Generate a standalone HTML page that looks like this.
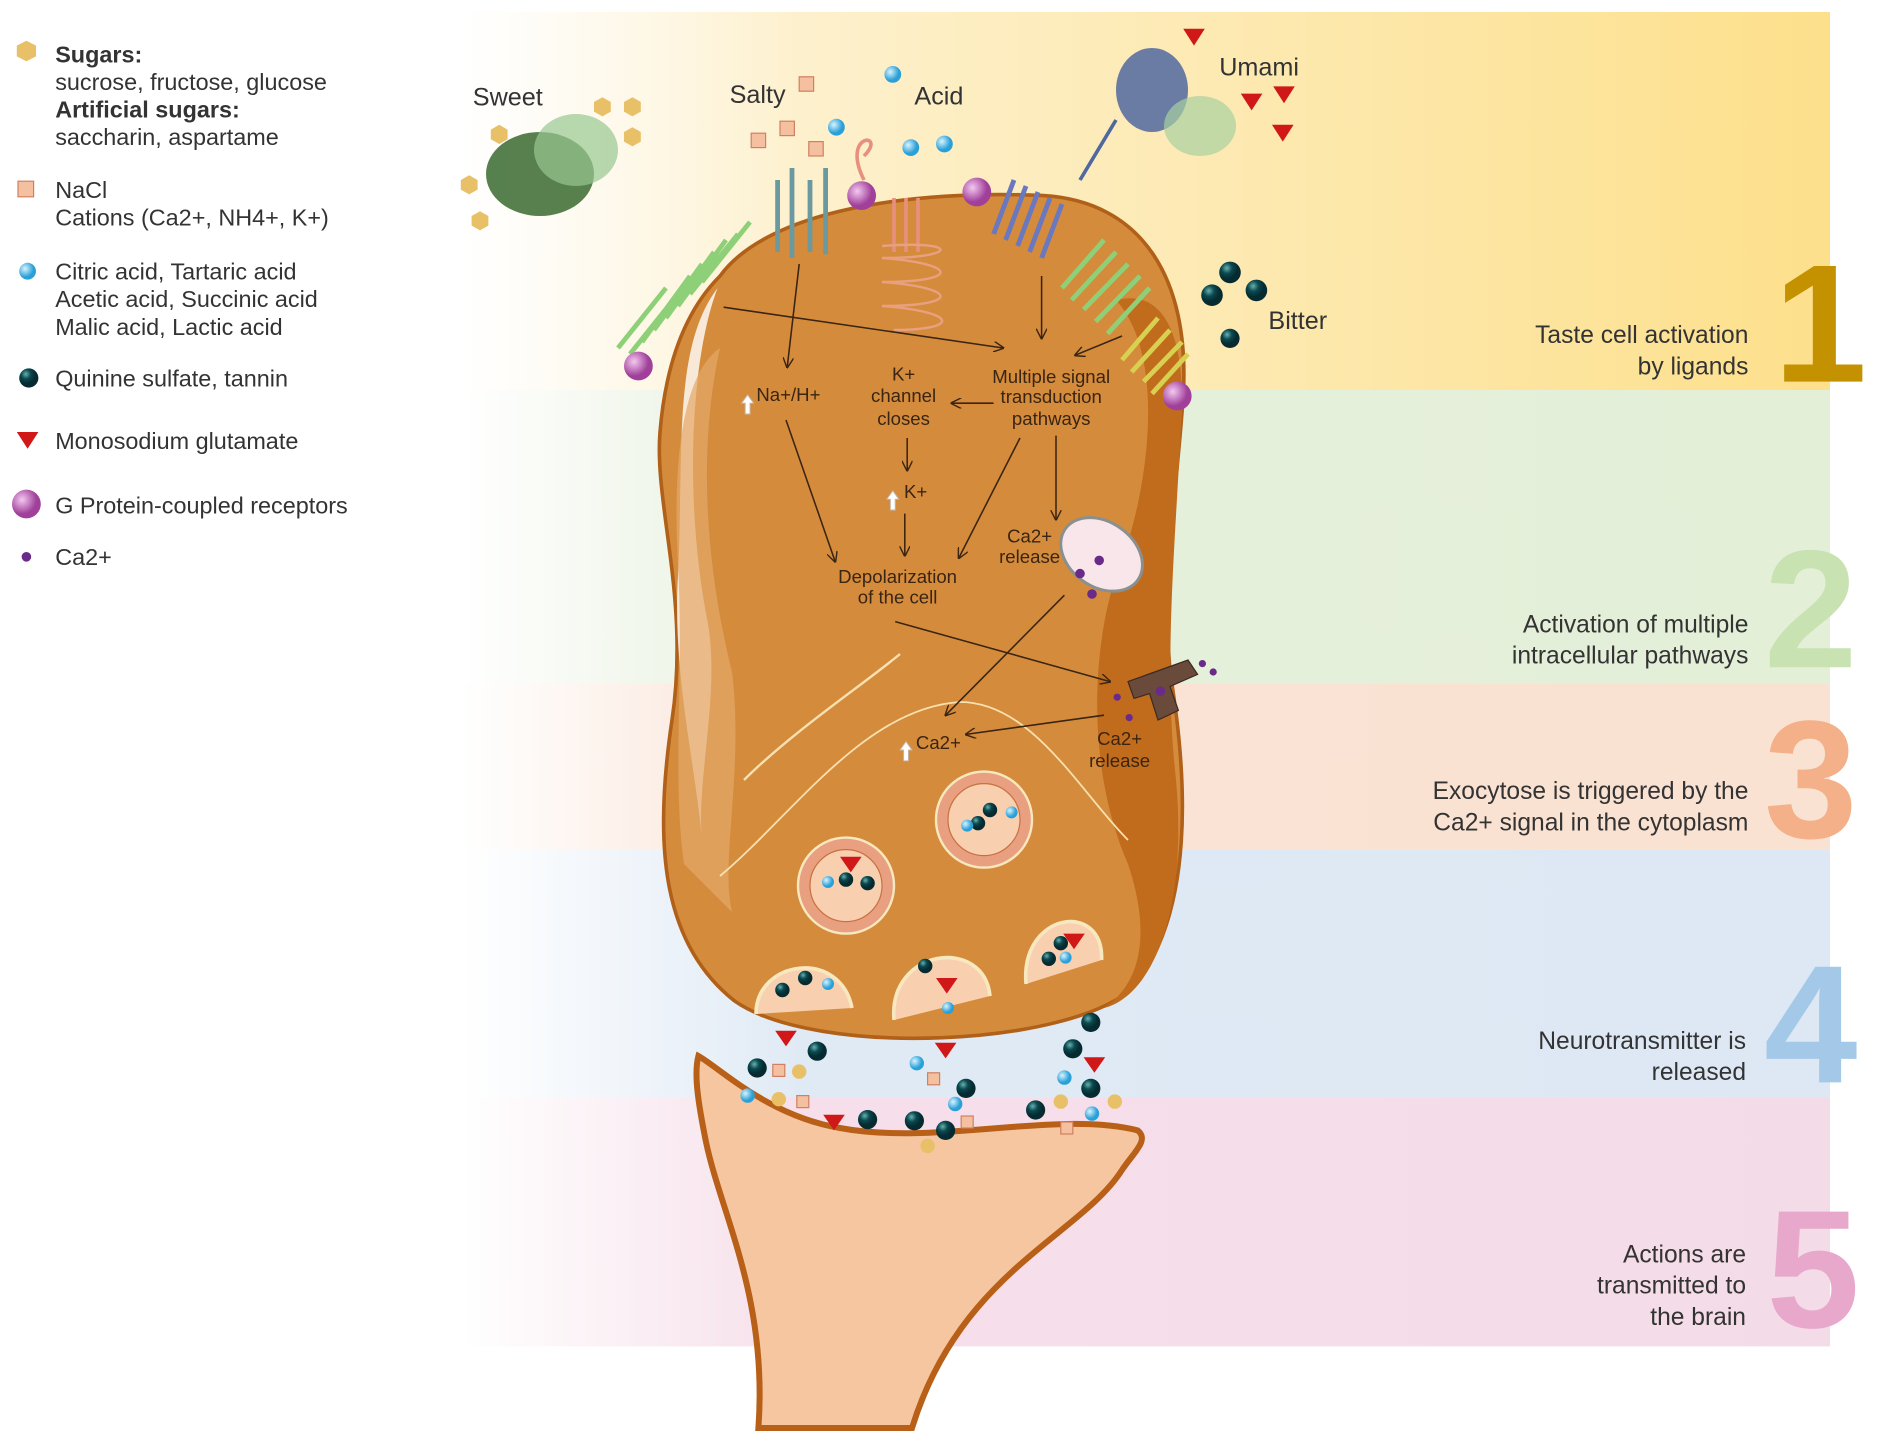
<!DOCTYPE html>
<html><head><meta charset="utf-8"><style>
html,body{margin:0;padding:0;background:#fff}
svg{display:block}
text{font-family:"Liberation Sans",sans-serif}
</style></head><body>
<svg width="1882" height="1435" viewBox="0 0 1882 1435" xmlns="http://www.w3.org/2000/svg">
<defs>
<linearGradient id="g1" x1="0" x2="1"><stop offset="0" stop-color="#fdf3d8" stop-opacity="0"/><stop offset="0.25" stop-color="#fdf0cc"/><stop offset="1" stop-color="#fde08c"/></linearGradient>
<linearGradient id="g2" x1="0" x2="1"><stop offset="0" stop-color="#e6f0dc" stop-opacity="0"/><stop offset="0.25" stop-color="#e6f0dc"/><stop offset="1" stop-color="#e4efd8"/></linearGradient>
<linearGradient id="g3" x1="0" x2="1"><stop offset="0" stop-color="#fae3d5" stop-opacity="0"/><stop offset="0.25" stop-color="#fae3d5"/><stop offset="1" stop-color="#fae2d2"/></linearGradient>
<linearGradient id="g4" x1="0" x2="1"><stop offset="0" stop-color="#e0eaf5" stop-opacity="0"/><stop offset="0.25" stop-color="#e0eaf5"/><stop offset="1" stop-color="#dde8f4"/></linearGradient>
<linearGradient id="g5" x1="0" x2="1"><stop offset="0" stop-color="#f6dfea" stop-opacity="0"/><stop offset="0.25" stop-color="#f6dfea"/><stop offset="1" stop-color="#f4dbe8"/></linearGradient>
<marker id="ar" viewBox="0 0 10 10" refX="9" refY="5" markerWidth="9" markerHeight="9" orient="auto" markerUnits="userSpaceOnUse"><path d="M0,0 L10,5 L0,10" fill="none" stroke="#3a2412" stroke-width="1.3"/></marker>
<radialGradient id="gp" cx="0.35" cy="0.35"><stop offset="0" stop-color="#f4c8f0"/><stop offset="1" stop-color="#a0409a"/></radialGradient>
<radialGradient id="bl" cx="0.35" cy="0.35"><stop offset="0" stop-color="#d8f4ff"/><stop offset="1" stop-color="#2aa0d8"/></radialGradient>
<radialGradient id="dk" cx="0.35" cy="0.3"><stop offset="0" stop-color="#6ab0b0"/><stop offset="0.5" stop-color="#0a4a50"/><stop offset="1" stop-color="#052a30"/></radialGradient>
</defs>
<g transform="scale(1.2)">
<rect x="385" y="10" width="1140" height="315" fill="url(#g1)"/>
<rect x="385" y="325" width="1140" height="245" fill="url(#g2)"/>
<rect x="385" y="570" width="1140" height="138" fill="url(#g3)"/>
<rect x="385" y="708" width="1140" height="207" fill="url(#g4)"/>
<rect x="385" y="915" width="1140" height="207" fill="url(#g5)"/>
<g font-weight="bold" font-size="140">
<text x="1478" y="318" fill="#c49200">1</text>
<text x="1470" y="556" fill="#c8e2b2">2</text>
<text x="1470" y="698" fill="#f4b088">3</text>
<text x="1470" y="902" fill="#a4c8e8">4</text>
<text x="1472" y="1106" fill="#e8a8cc">5</text>
</g>
<g font-size="20.5" fill="#333" text-anchor="end">
<text x="1457" y="286">Taste cell activation</text><text x="1457" y="312">by ligands</text>
<text x="1457" y="527">Activation of multiple</text><text x="1457" y="553">intracellular pathways</text>
<text x="1457" y="666">Exocytose is triggered by the</text><text x="1457" y="692">Ca2+ signal in the cytoplasm</text>
<text x="1455" y="874">Neurotransmitter is</text><text x="1455" y="900">released</text>
<text x="1455" y="1052">Actions are</text><text x="1455" y="1078">transmitted to</text><text x="1455" y="1104">the brain</text>
</g>
<g font-size="19.5" fill="#333">
<polygon points="22,34 30,38 30,47 22,51 14,47 14,38" fill="#e8c068"/>
<text x="46" y="52" font-weight="bold">Sugars:</text>
<text x="46" y="75">sucrose, fructose, glucose</text>
<text x="46" y="98" font-weight="bold">Artificial sugars:</text>
<text x="46" y="121">saccharin, aspartame</text>
<rect x="15" y="151" width="13" height="13" fill="#f4c0a0" stroke="#d08060"/>
<text x="46" y="165">NaCl</text><text x="46" y="188">Cations (Ca2+, NH4+, K+)</text>
<circle cx="23" cy="226" r="7" fill="url(#bl)"/>
<text x="46" y="233">Citric acid, Tartaric acid</text><text x="46" y="256">Acetic acid, Succinic acid</text><text x="46" y="279">Malic acid, Lactic acid</text>
<circle cx="24" cy="315" r="8" fill="url(#dk)"/>
<text x="46" y="322">Quinine sulfate, tannin</text>
<polygon points="14,360 32,360 23,374" fill="#d01818"/>
<text x="46" y="374">Monosodium glutamate</text>
<circle cx="22" cy="420" r="12" fill="url(#gp)"/>
<text x="46" y="428">G Protein-coupled receptors</text>
<circle cx="22" cy="464" r="4" fill="#6a2a8a"/>
<text x="46" y="471">Ca2+</text>
</g>
<path d="M582,880 C600,890 640,930 700,940 C780,955 880,925 948,942 C958,950 945,960 935,975 C900,1030 800,1060 760,1190 L632,1190 C640,1080 600,1010 588,950 C582,920 578,895 582,880 Z" fill="#f6c6a0" stroke="#b85f18" stroke-width="5"/>
<path d="M600,230 C640,175 760,158 870,163 C950,168 992,230 986,330 C980,420 968,470 975,560 C990,650 995,760 945,822 C895,872 680,882 612,834 C550,785 545,700 560,600 C575,500 545,420 550,360 C555,300 572,258 600,230 Z" fill="#d48c3c" stroke="#b06018" stroke-width="3"/>
<path d="M930,250 C975,300 955,420 930,480 C910,540 905,640 940,720 C960,780 950,820 920,840 C960,830 990,760 980,650 C970,560 978,470 984,360 C990,280 970,240 930,250 Z" fill="#c06c1c"/>
<path d="M598,240 C575,300 570,420 590,520 C600,580 580,650 585,700 C580,640 560,560 565,480 C570,380 560,290 598,240 Z" fill="#fff" opacity="0.8"/>
<path d="M600,290 C580,380 590,480 610,560 C620,640 600,720 610,760 L570,720 C560,650 570,560 565,470 C560,380 570,310 600,290 Z" fill="#e4a868" opacity="0.7"/>
<path d="M620,650 C660,610 720,570 750,545" stroke="#f8e0b0" stroke-width="2" fill="none"/>
<path d="M600,730 C660,680 720,590 800,585 C860,585 900,660 940,700" stroke="#f8e0b0" stroke-width="1.5" fill="none"/>
<g>
<circle cx="705" cy="738" r="40" fill="#e8a080" stroke="#f8e8c0" stroke-width="2"/><circle cx="705" cy="738" r="30" fill="#f8d0b0" stroke="#c87040"/>
<circle cx="820" cy="683" r="40" fill="#e8a080" stroke="#f8e8c0" stroke-width="2"/><circle cx="820" cy="683" r="30" fill="#f8d0b0" stroke="#c87040"/>
<path d="M630,845 C630,800 700,790 710,840" fill="#f8d0b0" stroke="#f8e8c0" stroke-width="3"/>
<path d="M745,850 C740,790 820,780 825,830" fill="#f8d0b0" stroke="#f8e8c0" stroke-width="3"/>
<path d="M855,820 C850,760 920,750 918,800" fill="#f8d0b0" stroke="#f8e8c0" stroke-width="3"/>
</g>
<g fill="url(#dk)">
<circle cx="705" cy="733" r="6"/><circle cx="723" cy="736" r="6"/><circle cx="825" cy="675" r="6"/><circle cx="815" cy="686" r="6"/><circle cx="652" cy="825" r="6"/><circle cx="671" cy="815" r="6"/><circle cx="771" cy="805" r="6"/><circle cx="874" cy="799" r="6"/><circle cx="884" cy="786" r="6"/>
</g>
<g fill="url(#bl)"><circle cx="690" cy="735" r="5"/><circle cx="806" cy="688" r="5"/><circle cx="843" cy="677" r="5"/><circle cx="690" cy="820" r="5"/><circle cx="790" cy="840" r="5"/><circle cx="888" cy="798" r="5"/></g>
<polygon points="700,714 718,714 709,727" fill="#d01818"/><polygon points="780,815 798,815 789,828" fill="#d01818"/><polygon points="886,778 904,778 895,791" fill="#d01818"/>
<g stroke="#8ed078" stroke-width="4" fill="none">
<path d="M515,290 L555,240 M525,295 L565,245 M535,285 L575,230 M545,275 L585,220 M555,265 L595,210 M565,255 L605,200 M575,245 L615,195 M585,235 L625,185"/>
<path d="M885,240 L920,200 M893,250 L930,210 M903,258 L940,220 M913,268 L950,230 M923,278 L958,240"/>
</g>
<g stroke="#6a9aa0" stroke-width="4" fill="none"><path d="M648,210 L648,150 M660,215 L660,140 M675,210 L675,150 M688,212 L688,140"/></g>
<g stroke="#6a78c0" stroke-width="4" fill="none"><path d="M828,195 L845,150 M838,200 L855,155 M848,205 L865,160 M858,210 L875,165 M868,215 L885,170"/></g>
<g stroke="#d8d050" stroke-width="4" fill="none"><path d="M935,300 L965,265 M943,310 L975,275 M953,318 L985,285 M960,328 L990,295"/></g>
<path d="M720,150 C700,110 740,110 720,130 M745,165 L745,210 M755,165 L755,210 M765,165 L765,210" stroke="#e89080" stroke-width="3" fill="none"/>
<g stroke="#e8a080" stroke-width="2" fill="none"><path d="M735,205 C800,200 800,215 735,215 C800,220 800,235 735,235 C800,240 800,255 735,255 C800,260 800,275 745,275"/></g>
<ellipse cx="450" cy="145" rx="45" ry="35" fill="#3a6a30" opacity="0.85"/>
<ellipse cx="480" cy="125" rx="35" ry="30" fill="#98c890" opacity="0.7"/>
<ellipse cx="960" cy="75" rx="30" ry="35" fill="#5068a0" opacity="0.85"/>
<ellipse cx="1000" cy="105" rx="30" ry="25" fill="#a8d0a0" opacity="0.7"/>
<path d="M900,150 L930,100" stroke="#5068a0" stroke-width="3"/>
<circle cx="532" cy="305" r="12" fill="url(#gp)"/><circle cx="718" cy="163" r="12" fill="url(#gp)"/><circle cx="814" cy="160" r="12" fill="url(#gp)"/><circle cx="981" cy="330" r="12" fill="url(#gp)"/>
<g fill="#e8c068"><polygon points="416,104 423,108 423,116 416,120 409,116 409,108"/><polygon points="502,81 509,85 509,93 502,97 495,93 495,85"/><polygon points="527,81 534,85 534,93 527,97 520,93 520,85"/><polygon points="527,106 534,110 534,118 527,122 520,118 520,110"/><polygon points="391,146 398,150 398,158 391,162 384,158 384,150"/><polygon points="400,176 407,180 407,188 400,192 393,188 393,180"/></g>
<g fill="#f4c0a0" stroke="#d08060"><rect x="666" y="64" width="12" height="12"/><rect x="650" y="101" width="12" height="12"/><rect x="626" y="111" width="12" height="12"/><rect x="674" y="118" width="12" height="12"/></g>
<g fill="url(#bl)"><circle cx="744" cy="62" r="7"/><circle cx="697" cy="106" r="7"/><circle cx="759" cy="123" r="7"/><circle cx="787" cy="120" r="7"/></g>
<g fill="#d01818"><polygon points="986,24 1004,24 995,38"/><polygon points="1034,78 1052,78 1043,92"/><polygon points="1061,72 1079,72 1070,86"/><polygon points="1060,104 1078,104 1069,118"/></g>
<g fill="url(#dk)"><circle cx="1025" cy="227" r="9"/><circle cx="1010" cy="246" r="9"/><circle cx="1047" cy="242" r="9"/><circle cx="1025" cy="282" r="8"/></g>
<g font-size="21" fill="#333"><text x="394" y="88">Sweet</text><text x="608" y="86">Salty</text><text x="762" y="87">Acid</text><text x="1016" y="63">Umami</text><text x="1057" y="274">Bitter</text></g>
<g stroke="#3a2412" stroke-width="1.3" fill="none" marker-end="url(#ar)">
<path d="M603,256 L836,290"/><path d="M868,230 L868,282"/><path d="M935,280 L896,296"/>
<path d="M666,220 L656,306"/><path d="M828,336 L793,336"/>
<path d="M756,365 L756,392"/><path d="M754,428 L754,463"/><path d="M655,350 L696,468"/><path d="M850,365 L799,465"/>
<path d="M880,363 L880,433"/><path d="M746,518 L925,568"/><path d="M887,496 L788,596"/><path d="M920,596 L805,612"/>
</g>
<g font-size="15.5" fill="#3a2412" text-anchor="middle">
<text x="876" y="319">Multiple signal</text><text x="876" y="336">transduction</text><text x="876" y="354">pathways</text>
<text x="753" y="317">K+</text><text x="753" y="335">channel</text><text x="753" y="354">closes</text>
<text x="657" y="334">Na+/H+</text><text x="763" y="415">K+</text>
<text x="748" y="486">Depolarization</text><text x="748" y="503">of the cell</text>
<text x="858" y="452">Ca2+</text><text x="858" y="469">release</text>
<text x="782" y="624">Ca2+</text><text x="933" y="621">Ca2+</text><text x="933" y="639">release</text>
</g>
<g fill="#fff" stroke="#c8b8a8" stroke-width="0.8"><path d="M618,336 l5,-7 l5,7 h-3 v9 h-4 v-9 z"/><path d="M739,416 l5,-7 l5,7 h-3 v9 h-4 v-9 z"/><path d="M750,625 l5,-7 l5,7 h-3 v9 h-4 v-9 z"/></g>
<ellipse cx="918" cy="462" rx="37" ry="27" transform="rotate(35 918 462)" fill="#f8e6ea" stroke="#8a9090" stroke-width="2.5"/>
<g fill="#6a2a8a"><circle cx="916" cy="467" r="4"/><circle cx="900" cy="478" r="4"/><circle cx="910" cy="495" r="4"/><circle cx="931" cy="581" r="3"/><circle cx="941" cy="598" r="3"/><circle cx="1002" cy="553" r="3"/><circle cx="1011" cy="560" r="3"/></g>
<path d="M940,568 L990,550 L998,562 L975,572 L982,592 L965,600 L958,578 L945,582 Z" fill="#6a4a3a" stroke="#3a2a20"/>
<circle cx="967" cy="576" r="4" fill="#6a2a8a"/>
<g fill="url(#dk)"><circle cx="681" cy="876" r="8"/><circle cx="631" cy="890" r="8"/><circle cx="723" cy="933" r="8"/><circle cx="762" cy="934" r="8"/><circle cx="788" cy="942" r="8"/><circle cx="805" cy="907" r="8"/><circle cx="909" cy="852" r="8"/><circle cx="894" cy="874" r="8"/><circle cx="909" cy="907" r="8"/><circle cx="863" cy="925" r="8"/></g>
<g fill="url(#bl)"><circle cx="623" cy="913" r="6"/><circle cx="764" cy="886" r="6"/><circle cx="796" cy="920" r="6"/><circle cx="887" cy="898" r="6"/><circle cx="910" cy="928" r="6"/></g>
<g fill="#d01818"><polygon points="646,859 664,859 655,872"/><polygon points="779,869 797,869 788,882"/><polygon points="903,881 921,881 912,894"/><polygon points="686,929 704,929 695,942"/></g>
<g fill="#e8c068"><circle cx="666" cy="893" r="6"/><circle cx="649" cy="916" r="6"/><circle cx="773" cy="955" r="6"/><circle cx="884" cy="918" r="6"/><circle cx="929" cy="918" r="6"/></g>
<g fill="#f4c0a0" stroke="#d08060"><rect x="644" y="887" width="10" height="10"/><rect x="664" y="913" width="10" height="10"/><rect x="773" y="894" width="10" height="10"/><rect x="801" y="930" width="10" height="10"/><rect x="884" y="935" width="10" height="10"/></g>
</g>
</svg>
</body></html>
